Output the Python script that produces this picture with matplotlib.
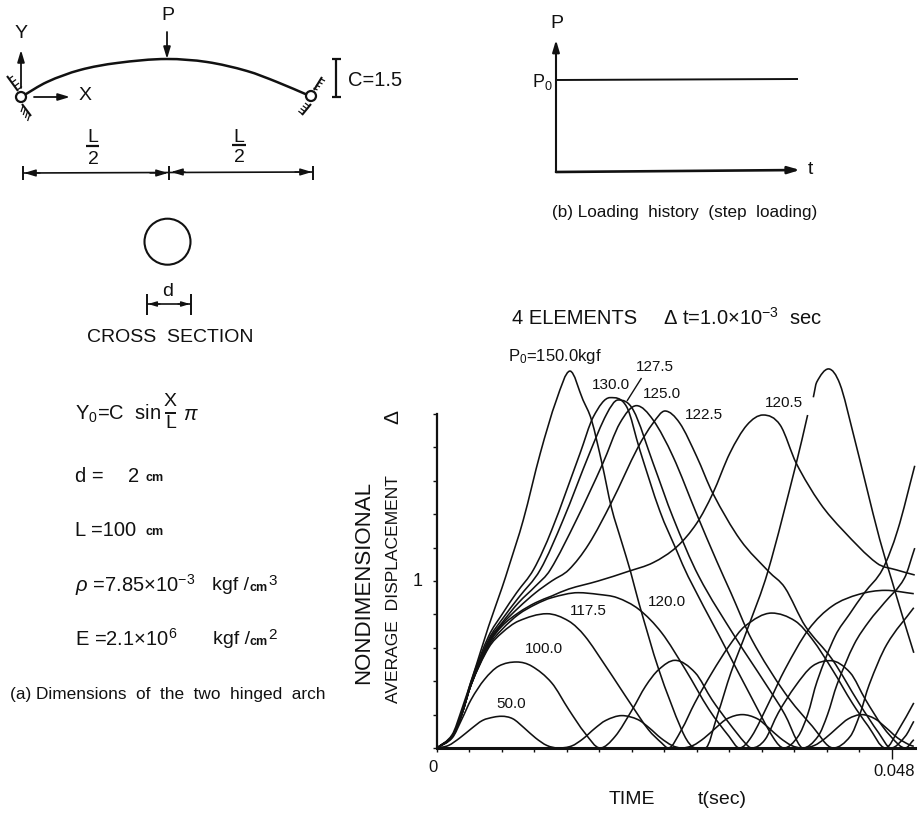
import numpy as np
import matplotlib
matplotlib.use('Agg')
import matplotlib.pyplot as plt
from matplotlib.patches import Circle, PathPatch
from matplotlib.path import Path

plt.rcParams['font.family'] = ['Liberation Sans', 'DejaVu Sans']
plt.rcParams['mathtext.fontset'] = 'custom'
plt.rcParams['mathtext.rm'] = 'Liberation Sans'
plt.rcParams['mathtext.it'] = 'Liberation Sans:italic'
plt.rcParams['mathtext.bf'] = 'Liberation Sans:bold'

INK = '#111111'

# t in ms, displacement nondimensional
t_50 = [0, 1.2, 2.4, 3.6, 4.8, 6.0, 6.8, 8.0, 9.2, 10.4, 11.6, 12.8, 14.2, 15.4, 16.6, 17.8, 19.5, 21.2, 22.4, 23.6, 24.8, 25.8,
        27.0, 28.2, 29.4, 30.6, 32.2, 33.8, 35.0, 36.2, 37.4, 38.5, 39.8, 41.0, 42.2, 43.4, 44.8, 46.2, 47.4, 48.6, 49.8, 50.3]
y_50 = [0, .015, .06, .115, .165, .185, .19, .175, .12, .06, .015, 0, .012, .055, .115, .165, .194, .17, .12, .06, .015, 0,
        .015, .06, .12, .175, .2, .175, .12, .06, .015, 0, .015, .06, .12, .175, .2, .175, .12, .06, .02, .01]

t_100 = [0, 1.6, 2.6, 3.6, 5.0, 6.5, 8.4, 10.0, 12.1, 13.9, 15.6, 17.2, 18.8, 20.6, 22.0, 23.4, 25.1, 27.25, 29.0, 30.8, 32.5, 33.2,
         34.6, 36.0, 37.8, 39.6, 41.5, 43.6, 45.2, 47.0, 48.7, 49.4, 50.3]
y_100 = [0, .06, .17, .29, .41, .49, .515, .49, .39, .23, .09, 0, .07, .23, .37, .47, .525, .45, .29, .15, .03, 0,
         .05, .21, .37, .49, .523, .45, .29, .13, .02, 0, .05]

t_1175 = [0, 1.6, 2.6, 3.6, 5.45, 6.86, 8.6, 11.6, 13.9, 15.6, 17.8, 19.2, 20.6, 22.3, 23.7, 24.4, 25.8, 27.2, 29.0, 30.8, 32.5, 35.3,
          37.8, 39.6, 41.7, 43.8, 45.5, 47.3, 48.7, 50.3]
y_1175 = [0, .07, .2, .38, .6, .69, .76, .804, .76, .67, .49, .37, .25, .11, .03, 0, .11, .27, .45, .61, .73, .808,
          .76, .65, .47, .27, .13, 0, .11, .27]

t_120 = [0, 1.6, 2.6, 3.6, 5.45, 6.86, 8.6, 10.4, 12.1, 14.9, 17.0, 19.0, 21.3, 23.7, 26.2, 28.7, 30.8, 31.9, 33.2, 35.0, 36.7, 39.2,
         41.7, 44.5, 47.3, 50.3]
y_120 = [0, .07, .2, .38, .61, .71, .8, .86, .9, .93, .92, .9, .83, .69, .47, .23, .07, 0, .07, .27, .47, .71,
         .85, .92, .944, .924]

t_1205 = [0, 1.6, 2.6, 3.6, 5.45, 6.86, 8.6, 10.4, 12.1, 13.9, 17.0, 20.2, 22.8, 25.3, 27.4, 29.1, 30.9, 32.7, 34.4, 36.2, 37.9, 40.4,
          42.8, 46.4, 48.5, 50.4]
y_1205 = [0, .07, .2, .38, .62, .73, .81, .87, .91, .952, 1.0, 1.058, 1.11, 1.205, 1.346, 1.525, 1.766, 1.934, 1.994, 1.934, 1.705, 1.467,
          1.305, 1.107, 1.066, 1.036]

t_1225 = [0, 1.6, 2.6, 3.6, 5.45, 6.86, 8.6, 10.4, 12.1, 13.9, 16.0, 18.4, 21.2, 22.8, 24.05, 25.6, 27.4, 29.1, 32.0, 35.0, 36.7, 38.85,
          41.7, 44.5, 46.6, 47.9, 49.4, 50.3]
y_1225 = [0, .07, .2, .38, .63, .74, .84, .93, 1.0, 1.067, 1.22, 1.47, 1.80, 1.946, 2.018, 1.946, 1.745, 1.525, 1.246, 1.056, .96, .73,
          .53, .27, .09, 0, .07, .16]

t_125 = [0, 1.6, 2.6, 3.6, 5.45, 6.86, 8.6, 10.4, 11.95, 14.7, 17.5, 19.3, 21.05, 22.8, 24.9, 27.4, 29.5, 31.0, 33.2, 36.7, 39.6, 41.8,
         43.6, 44.6, 45.6, 47.45, 50.3]
y_125 = [0, .07, .2, .38, .64, .75, .87, .97, 1.067, 1.365, 1.705, 1.946, 2.05, 1.964, 1.745, 1.40, 1.12, .93, .65, .33, .13, 0,
         .07, .2, .38, .62, .84]

t_1275 = [0, 1.6, 2.6, 3.6, 5.45, 6.86, 8.6, 10.9, 13.3, 16.1, 17.9, 19.1, 20.7, 22.8, 24.9, 27.6, 31.5, 34.6, 36.7, 38.0, 38.6,
          40.2, 41.2, 42.2, 44.0, 45.6, 47.2, 49.3, 50.4]
y_1275 = [0, .07, .2, .39, .65, .77, .9, 1.068, 1.365, 1.766, 2.0, 2.084, 2.024, 1.705, 1.38, 1.03, .66, .39, .2, .04, 0,
          .07, .2, .38, .62, .76, .87, 1.016, 1.197]

t_130 = [0, 1.6, 2.6, 3.6, 5.45, 6.86, 8.4, 10.2, 12.1, 15.1, 16.5, 18.25, 20.0, 21.4, 23.5, 25.3, 26.5, 29.7, 33.2, 35.5, 36.6,
         38.1, 39.1, 40.1, 42.0, 43.5, 45.1, 47.0, 48.6, 50.4]
y_130 = [0, .07, .2, .4, .67, .8, .93, 1.07, 1.305, 1.766, 1.984, 2.098, 2.044, 1.784, 1.42, 1.18, 1.026, .68, .3, .06, 0,
         .07, .2, .4, .67, .8, .93, 1.07, 1.305, 1.69]

t_150 = [0, 1.6, 2.6, 4.0, 5.45, 6.86, 7.6, 9.1, 10.9, 12.6, 14.03, 15.4, 16.3, 17.4, 18.4, 19.5, 20.4, 21.3, 23.4, 25.8, 26.9, 28.3,
         29.6, 31.0, 32.8, 34.9, 37.9, 39.1, 39.4, 39.7, 40.05, 41.3, 42.5, 43.9, 45.3, 46.7, 48.0, 49.05, 50.3]
y_150 = [0, .08, .23, .47, .73, .96, 1.09, 1.365, 1.766, 2.084, 2.257, 2.084, 1.964, 1.705, 1.44, 1.23, 1.06, .868, .469, .11, .01, 0,
         .2, .45, .72, 1.056, 1.705, 1.994, np.nan, 2.10, 2.19, 2.27, 2.18, 1.885, 1.565, 1.25, 1.0, .8, .57]

series = [(t_50, y_50), (t_100, y_100), (t_1175, y_1175), (t_120, y_120), (t_1205, y_1205), (t_1225, y_1225),
          (t_125, y_125), (t_1275, y_1275), (t_130, y_130), (t_150, y_150)]

y_ticks = [0, .2, .4, .6, .8, 1.0, 1.2, 1.4, 1.6, 1.8, 2.0]
n_x_ticks = 15
t_end = 48

# peak labels, in px of the figure
curve_labels = [('127.5', 655, 367), ('130.0', 611, 385), ('125.0', 662, 394), ('122.5', 704, 415), ('120.5', 784, 403),
                ('120.0', 667, 602), ('117.5', 588, 611), ('100.0', 544, 649), ('50.0', 511, 704)]

# arch centre line in px
arch_x = [21, 47, 80, 117, 167, 207, 247, 277, 310]
arch_y = [97, 82, 70, 63, 59, 62, 71, 82, 96]

W, H = 920, 814


def curve_path(t, y):
    # bezier segments through the read points, flat at peaks
    t, y = np.array(t, float), np.array(y, float)
    n = len(t)
    m = np.zeros(n)
    m[0] = (y[1] - y[0]) / (t[1] - t[0])
    m[-1] = (y[-1] - y[-2]) / (t[-1] - t[-2])
    for i in range(1, n - 1):
        if (y[i] - y[i - 1]) * (y[i + 1] - y[i]) > 0:
            m[i] = (y[i + 1] - y[i - 1]) / (t[i + 1] - t[i - 1])
    verts, codes = [(t[0], y[0])], [Path.MOVETO]
    for i in range(n - 1):
        d = (t[i + 1] - t[i]) / 3
        verts += [(t[i] + d, y[i] + m[i] * d), (t[i + 1] - d, y[i + 1] - m[i + 1] * d), (t[i + 1], y[i + 1])]
        codes += [Path.CURVE4] * 3
    return Path(verts, codes)


def draw_curve(ax, t, y):
    t, y = np.array(t, float), np.array(y, float)
    gaps = np.where(np.isnan(y))[0]
    start = 0
    for stop in list(gaps) + [len(y)]:
        ax.add_patch(PathPatch(curve_path(t[start:stop], y[start:stop]), fc='none', ec=INK, lw=1.15))
        start = stop + 1


fig = plt.figure(figsize=(W / 100, H / 100), dpi=100)

# main plot
ax = fig.add_axes([437 / W, (H - 748) / H, (W - 437) / W, (748 - 360) / H])
ax.set_xlim(0, (W - 437) / 455 * t_end)
ax.set_ylim(0, (748 - 360) / 167)
for t, y in series:
    draw_curve(ax, t, y)
ax.plot([0, 50.4], [0, 0], color=INK, lw=2.2, clip_on=False)
for s in ['top', 'right', 'bottom']:
    ax.spines[s].set_visible(False)
ax.spines['left'].set_bounds(0, 2.0)
ax.spines['left'].set_linewidth(1.6)
ax.spines['left'].set_color(INK)
ax.patch.set_alpha(0)
ax.set_yticks(y_ticks)
ax.set_yticklabels([])
ax.tick_params(axis='y', length=3, width=1, color=INK)
ax.set_xticks(np.linspace(0, t_end, n_x_ticks))
ax.set_xticklabels([])
ax.tick_params(axis='x', length=3, width=1, color=INK)
ax.xaxis.get_major_ticks()[-1].tick1line.set_markersize(8)

# everything else in figure px
ov = fig.add_axes([0, 0, 1, 1])
ov.set_xlim(0, W)
ov.set_ylim(H, 0)
ov.axis('off')
ov.patch.set_alpha(0)


def txt(x, y, s, size=11, ha='center', **kw):
    ov.text(x, y, s, fontsize=size, ha=ha, va='center', color=INK, **kw)


def line(xs, ys, lw=1.2):
    ov.plot(xs, ys, color=INK, lw=lw, solid_capstyle='butt')


def arrow(x0, y0, x1, y1, lw=1.3, size=0.7):
    ov.annotate('', xy=(x1, y1), xytext=(x0, y0),
                arrowprops=dict(arrowstyle='-|>,head_length=%g,head_width=%g' % (size, size * 0.3),
                                color=INK, lw=lw, shrinkA=0, shrinkB=0))


for s, x, y in curve_labels:
    txt(x, y, s, 11)
txt(508, 356, r'P$_{\mathrm{0}}$=150.0kgf', 12, ha='left')
line([641.5, 627], [378, 401], 1.0)
txt(433, 768, '0', 12)
txt(894, 772, '0.048', 12)
txt(632, 800, 'TIME', 14)
txt(722, 800, 't(sec)', 14)
txt(418, 581, '1', 13)
txt(393, 417, 'Δ', 15, rotation=90)
txt(364, 583, 'NONDIMENSIONAL', 16, rotation=90)
txt(394, 589, 'AVERAGE  DISPLACEMENT', 12.6, rotation=90)
txt(512, 318, '4 ELEMENTS', 14.5, ha='left')
txt(663, 318, r'Δ t=1.0×10$^{-3}$  sec', 14.5, ha='left')

# (a) arch
ov.add_patch(PathPatch(curve_path(arch_x, arch_y), fc='none', ec=INK, lw=1.8))
for cx, cy in [(21, 97), (311, 96)]:
    ov.add_patch(Circle((cx, cy), 5, fc='white', ec=INK, lw=1.6, zorder=5))
line([7, 18], [76, 91], 1.5)
line([22, 31], [104, 116], 1.5)
line([322, 314], [77, 90], 1.5)
line([311, 302], [104, 115], 1.5)
for i in range(4):
    line([9 + i * 3, 13 + i * 3], [79 + i * 3.5, 76 + i * 3.5], 0.9)
    line([23 + i * 2.2, 21 + i * 2.2], [106 + i * 3, 112 + i * 3], 0.9)
    line([321 - i * 2.5, 325 - i * 2.5], [79 + i * 3, 81 + i * 3], 0.9)
    line([309 - i * 2.2, 305 - i * 2.2], [106 + i * 2.7, 103 + i * 2.7], 0.9)
arrow(21, 88, 21, 50)
arrow(34, 97, 70, 97)
arrow(167, 32, 167, 59)
txt(21, 33, 'Y', 14)
txt(85, 96, 'X', 14)
txt(168, 16, 'P', 14)
line([332, 341], [59, 59], 1.6)
line([332, 341], [97, 97], 1.6)
line([336, 336], [59, 97], 1.6)
txt(348, 80, 'C=1.5', 14.5, ha='left')

txt(93, 138, 'L', 14)
line([86, 99], [146, 146], 1.6)
txt(93, 160, '2', 14)
txt(239, 137, 'L', 14)
line([232, 246], [145, 145], 1.6)
txt(239, 158, '2', 14)
line([23, 313], [173, 172])
for x in [23, 169.5, 313]:
    line([x, x], [166, 180], 1.4)
arrow(40, 173, 24, 173, 1.0)
arrow(150, 173, 168, 173, 1.0)
arrow(185, 172, 171, 172, 1.0)
arrow(295, 172, 312, 172, 1.0)

ov.add_patch(Circle((167.5, 241.7), 23, fc='none', ec=INK, lw=1.5))
line([147, 191], [304, 304])
line([147, 147], [294, 315], 1.4)
line([191, 191], [294, 315], 1.4)
arrow(160, 304, 148, 304, 1.0, 0.5)
arrow(178, 304, 190, 304, 1.0, 0.5)
txt(168, 292, 'd', 14)
txt(170, 338, 'CROSS  SECTION', 14)

txt(75, 414, r'Y$_{\mathrm{0}}$=C  sin', 14.5, ha='left')
txt(170.5, 402, 'X', 14)
line([165, 176], [413, 413], 1.4)
txt(170.5, 423, 'L', 14)
txt(183, 415, r'$\pi$', 14.5, ha='left')
txt(75, 477, 'd =', 14.5, ha='left')
txt(128, 477, '2', 14.5, ha='left')
txt(146, 478, 'cm', 9, ha='left', fontweight='bold')
txt(75, 531, 'L =100', 14.5, ha='left')
txt(146, 532, 'cm', 9, ha='left', fontweight='bold')
txt(75, 585, r'$\rho$ =7.85×10$^{-3}$', 14.5, ha='left')
txt(212, 585, 'kgf /', 14, ha='left')
txt(250, 588, 'cm', 9, ha='left', fontweight='bold')
txt(268, 581, '3', 11, ha='left')
txt(75, 639, r'E =2.1×10$^{6}$', 14.5, ha='left')
txt(213, 639, 'kgf /', 14, ha='left')
txt(250, 642, 'cm', 9, ha='left', fontweight='bold')
txt(268, 635, '2', 11, ha='left')
txt(10, 695, '(a) Dimensions  of  the  two  hinged  arch', 12.4, ha='left')

# (b) loading history
arrow(556, 172, 556, 40, 1.5)
arrow(556, 172, 800, 170, 1.9)
line([556, 798], [80, 79], 1.4)
txt(557, 24, 'P', 14)
txt(542, 82, r'P$_{\mathrm{0}}$', 13)
txt(810, 170, 't', 14)
txt(552, 213, '(b) Loading  history  (step  loading)', 12.3, ha='left')

fig.savefig('out.png', dpi=100, facecolor='white')
